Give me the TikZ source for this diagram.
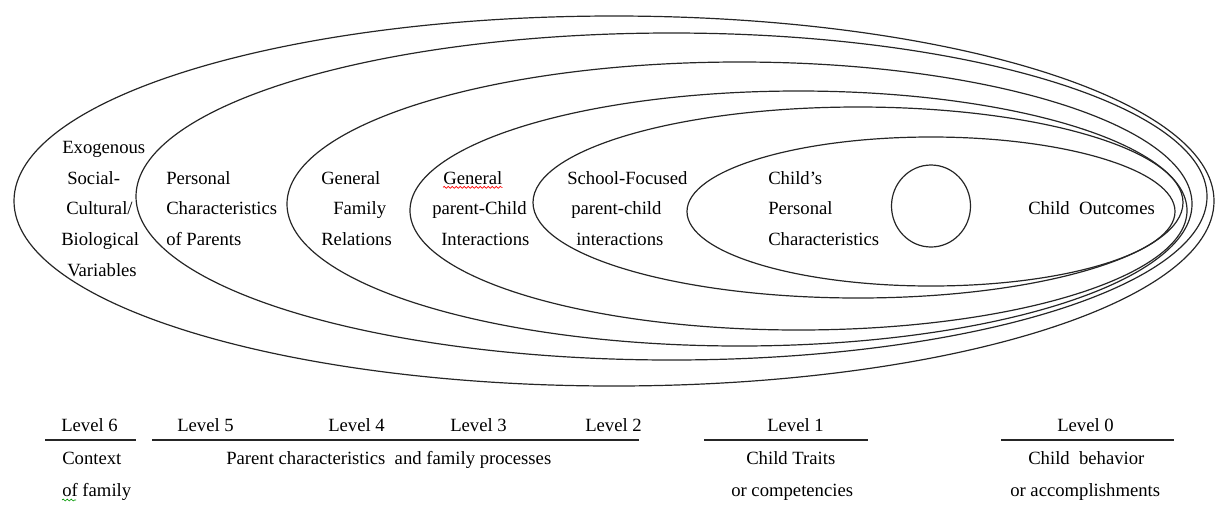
\documentclass[tikz,border=0pt]{standalone}
\usepackage{fontspec}
\setmainfont{Liberation Serif}
\usetikzlibrary{decorations.pathmorphing}
\begin{document}
\begin{tikzpicture}[x=0.75pt,y=-0.75pt,
  ring/.style={draw=black!85,line width=0.9pt},
  lbl/.style={anchor=base west,inner sep=0pt,font=\fontsize{14}{16}\selectfont,text=black},
  levelrule/.style={draw=black!85,line width=1pt},
  squiggle/.style={decorate,decoration={snake,amplitude=0.7pt,segment length=3pt},line width=0.5pt}]
\useasboundingbox (0,0) rectangle (1216,515);

% nested levels, outermost first
\draw[ring] (614,201)   ellipse [x radius=600, y radius=185];
\draw[ring] (671.5,196.5) ellipse [x radius=535.5, y radius=163.5];
\draw[ring] (739.5,204) ellipse [x radius=452.5, y radius=142];
\draw[ring] (798.5,210.5) ellipse [x radius=388.5, y radius=119.5];
\draw[ring] (858,202.5) ellipse [x radius=325, y radius=95.5];
\draw[ring] (931,211.5) ellipse [x radius=244, y radius=74.5];
% the child
\draw[ring] (931,206) ellipse [x radius=39.5, y radius=41];

% level 6
\node[lbl] (exo1) at (62,153) {Exogenous};
\node[lbl] (exo2) at (67,184) {Social-};
\node[lbl] (exo3) at (66,214) {Cultural/};
\node[lbl] (exo4) at (61,245) {Biological};
\node[lbl] (exo5) at (67,276) {Variables};
% level 5
\node[lbl] (par1) at (166,184) {Personal};
\node[lbl] (par2) at (166,214) {Characteristics};
\node[lbl] (par3) at (166,245) {of Parents};
% level 4
\node[lbl] (fam1) at (321,184) {General};
\node[lbl] (fam2) at (333,214) {Family};
\node[lbl] (fam3) at (321,245) {Relations};
% level 3
\node[lbl] (gpc1) at (443,184) {General};
\node[lbl] (gpc2) at (432,214) {parent-Child};
\node[lbl] (gpc3) at (441,245) {Interactions};
% level 2
\node[lbl] (spc1) at (567,184) {School-Focused};
\node[lbl] (spc2) at (571,214) {parent-child};
\node[lbl] (spc3) at (576,245) {interactions};
% level 1
\node[lbl] (cpc1) at (768,184) {Child’s};
\node[lbl] (cpc2) at (768,214) {Personal};
\node[lbl] (cpc3) at (768,245) {Characteristics};
% level 0
\node[lbl] (out) at (1028,214) {Child\ \ Outcomes};

% level captions
\node[lbl] (lv6) at (61,431)   {Level 6};
\node[lbl] (lv5) at (177,431)  {Level 5};
\node[lbl] (lv4) at (328,431)  {Level 4};
\node[lbl] (lv3) at (450,431)  {Level 3};
\node[lbl] (lv2) at (585,431)  {Level 2};
\node[lbl] (lv1) at (767,431)  {Level 1};
\node[lbl] (lv0) at (1057,431) {Level 0};

\coordinate (r6a) at (45,440);   \coordinate (r6b) at (136,440);
\coordinate (r5a) at (152,440);  \coordinate (r5b) at (639,440);
\coordinate (r1a) at (704,440);  \coordinate (r1b) at (868,440);
\coordinate (r0a) at (1001,440); \coordinate (r0b) at (1174,440);
\draw[levelrule] (r6a) -- (r6b);
\draw[levelrule] (r5a) -- (r5b);
\draw[levelrule] (r1a) -- (r1b);
\draw[levelrule] (r0a) -- (r0b);

\node[lbl] (ctx1) at (62,464)   {Context};
\node[lbl] (ctx2) at (62,496)   {of family};
\node[lbl] (pcf)  at (226,464)  {Parent characteristics\ \ and family processes};
\node[lbl] (ct1)  at (746,464)  {Child Traits};
\node[lbl] (ct2)  at (731,496)  {or competencies};
\node[lbl] (cb1)  at (1028,464) {Child\ \ behavior};
\node[lbl] (cb2)  at (1010,496) {or accomplishments};

% proofing marks
\draw[squiggle,red] ([yshift=-2.5pt]gpc1.base west) -- ([yshift=-2.5pt]gpc1.base east);
\coordinate (ofa) at (62,500); \coordinate (ofb) at (76,500);
\draw[squiggle,green!60!black] (ofa) -- (ofb);
\end{tikzpicture}
\end{document}
